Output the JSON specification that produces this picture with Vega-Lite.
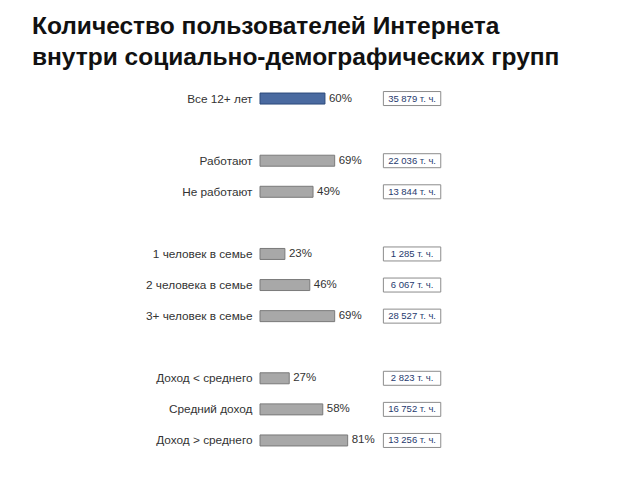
{
  "$schema": "https://vega.github.io/schema/vega-lite/v6.json",
  "autosize": "none",
  "width": 184,
  "height": 373,
  "padding": {"left": 260, "top": 83, "right": 196, "bottom": 24},
  "background": "white",
  "title": {
    "text": ["Количество пользователей Интернета", "внутри социально-демографических групп"],
    "anchor": "start",
    "frame": "group",
    "dx": -228,
    "offset": 13,
    "font": "Liberation Sans",
    "fontSize": 24.5,
    "fontWeight": "bold",
    "lineHeight": 31,
    "color": "#111111"
  },
  "config": {"view": {"stroke": null}},
  "data": {
    "values": [
      {"label": "Все 12+ лет", "pct": 60, "users": "35 879 т. ч."},
      {"label": "Работают", "pct": 69, "users": "22 036 т. ч."},
      {"label": "Не работают", "pct": 49, "users": "13 844 т. ч."},
      {"label": "1 человек в семье", "pct": 23, "users": "1 285 т. ч."},
      {"label": "2 человека в семье", "pct": 46, "users": "6 067 т. ч."},
      {"label": "3+ человек в семье", "pct": 69, "users": "28 527 т. ч."},
      {"label": "Доход < среднего", "pct": 27, "users": "2 823 т. ч."},
      {"label": "Средний доход", "pct": 58, "users": "16 752 т. ч."},
      {"label": "Доход > среднего", "pct": 81, "users": "13 256 т. ч."}
    ]
  },
  "transform": [{"calculate": "datum.pct + '%'", "as": "pctText"}],
  "encoding": {
    "y": {
      "field": "label",
      "type": "nominal",
      "scale": {
        "domain": ["Все 12+ лет", " ", "Работают", "Не работают", "  ", "1 человек в семье", "2 человека в семье", "3+ человек в семье", "   ", "Доход < среднего", "Средний доход", "Доход > среднего"],
        "paddingInner": 0,
        "paddingOuter": 0
      },
      "axis": {
        "title": null,
        "domain": false,
        "ticks": false,
        "labelPadding": 8,
        "labelFont": "Liberation Sans",
        "labelFontSize": 11.8,
        "labelColor": "#333333",
        "labelLimit": 300
      }
    }
  },
  "layer": [
    {
      "mark": {"type": "bar", "size": 11, "strokeWidth": 1},
      "encoding": {
        "x": {"field": "pct", "type": "quantitative", "scale": {"domain": [0, 170], "nice": false}, "axis": null},
        "color": {
          "condition": {"test": "datum.label === 'Все 12+ лет'", "value": "#4a6aa0"},
          "value": "#a8a8a8"
        },
        "stroke": {
          "condition": {"test": "datum.label === 'Все 12+ лет'", "value": "#2c4a7a"},
          "value": "#7a7a7a"
        }
      }
    },
    {
      "mark": {"type": "text", "align": "left", "dx": 4, "font": "Liberation Sans", "fontSize": 11.5, "color": "#333333"},
      "encoding": {
        "x": {"field": "pct", "type": "quantitative"},
        "text": {"field": "pctText"}
      }
    },
    {
      "mark": {"type": "bar", "size": 14, "fill": "white", "stroke": "#8c8c8c", "strokeWidth": 1},
      "encoding": {
        "x": {"datum": 114},
        "x2": {"datum": 167}
      }
    },
    {
      "mark": {"type": "text", "align": "center", "font": "Liberation Sans", "fontSize": 9.5, "color": "#1f3a6e"},
      "encoding": {
        "x": {"datum": 140.5},
        "text": {"field": "users"}
      }
    }
  ]
}
